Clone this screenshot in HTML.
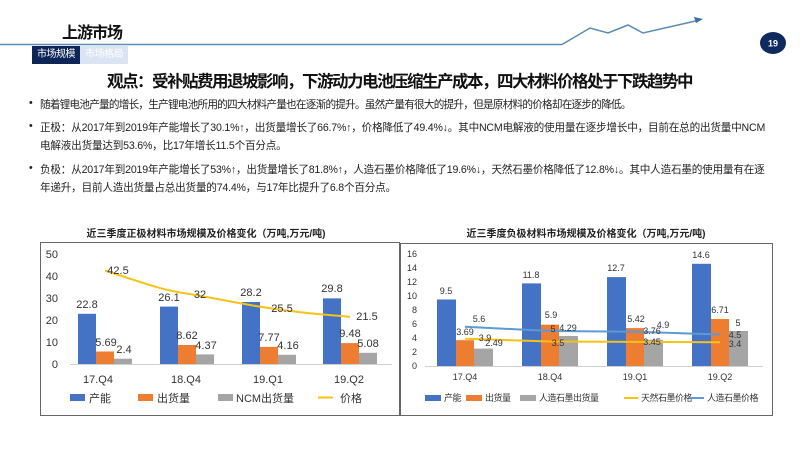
<!DOCTYPE html>
<html><head><meta charset="utf-8">
<style>
body{margin:0;width:800px;height:450px;background:#fff;overflow:hidden;position:relative;font-family:"Liberation Sans","Noto Sans CJK SC",sans-serif;}
.a{position:absolute;white-space:nowrap;}
.t{font-size:10.6px;color:#222;letter-spacing:-0.2px;}
</style></head><body>
<div class="a" style="left:62px;top:19px;font-size:16px;font-weight:bold;color:#111;letter-spacing:-1px;">上游市场</div>
<svg class="a" style="left:0;top:0" width="800" height="70">
<polyline points="0,44.5 562,44.5 590,28 608,33 628,25 643,33 700,20" fill="none" stroke="#5b8bb5" stroke-width="1.5"/>
<polygon points="703,19 694,17 696,23" fill="#3a6ea5"/>
<ellipse cx="773" cy="43" rx="13" ry="11" fill="#0f2a5e"/>
<text x="773" y="46.5" font-size="9" font-weight="bold" fill="#fff" text-anchor="middle" font-family="Liberation Sans">19</text>
</svg>
<div class="a" style="left:32px;top:46px;width:48px;height:18px;background:#0d2557;color:#fff;font-size:10px;line-height:18px;text-align:center;letter-spacing:-0.5px;">市场规模</div>
<div class="a" style="left:80px;top:46px;width:48px;height:18px;background:#dbe4f2;color:#fff;font-size:10px;line-height:18px;text-align:center;letter-spacing:-0.5px;">市场格局</div>
<div class="a" style="left:107px;top:68px;font-size:16.5px;font-weight:bold;color:#111;letter-spacing:-1.5px;">观点：受补贴费用退坡影响，下游动力电池压缩生产成本，四大材料价格处于下跌趋势中</div>
<div class="a t" style="left:29px;top:97px;">•</div>
<div class="a t" style="left:40px;top:97px;letter-spacing:-0.75px;">随着锂电池产量的增长，生产锂电池所用的四大材料产量也在逐渐的提升。虽然产量有很大的提升，但是原材料的价格却在逐步的降低。</div>
<div class="a t" style="left:29px;top:120px;">•</div>
<div class="a t" style="left:40px;top:120px;">正极：从2017年到2019年产能增长了30.1%↑，出货量增长了66.7%↑，价格降低了49.4%↓。其中NCM电解液的使用量在逐步增长中，目前在总的出货量中NCM</div>
<div class="a t" style="left:40px;top:138px;">电解液出货量达到53.6%，比17年增长11.5个百分点。</div>
<div class="a t" style="left:29px;top:162px;">•</div>
<div class="a t" style="left:40px;top:162px;">负极：从2017年到2019年产能增长了53%↑，出货量增长了81.8%↑，人造石墨价格降低了19.6%↓，天然石墨价格降低了12.8%↓。其中人造石墨的使用量有在逐</div>
<div class="a t" style="left:40px;top:180px;">年递升，目前人造出货量占总出货量的74.4%，与17年比提升了6.8个百分点。</div>

<svg class="a" style="left:0;top:0" width="800" height="450" font-family="Liberation Sans, Noto Sans CJK SC, sans-serif">
<text x="206" y="237" font-size="10" font-weight="bold" text-anchor="middle" fill="#222">近三季度正极材料市场规模及价格变化（万吨,万元/吨)</text>
<rect x="40.5" y="242.5" width="359" height="173" fill="none" stroke="#666"/>
<line x1="70" y1="364.5" x2="392" y2="364.5" stroke="#d0d0d0"/>
<g font-size="11" fill="#333" text-anchor="end">
<text x="58" y="368">0</text><text x="58" y="346">10</text><text x="58" y="324">20</text><text x="58" y="302">30</text><text x="58" y="280">40</text><text x="58" y="258">50</text>
</g>
<g>
<rect x="78" y="313.8" width="18" height="50.2" fill="#4472c4"/><rect x="96" y="351.5" width="18" height="12.5" fill="#ed7d31"/><rect x="114" y="358.7" width="18" height="5.3" fill="#a5a5a5"/>
<rect x="160" y="306.6" width="18" height="57.4" fill="#4472c4"/><rect x="178" y="345" width="18" height="19" fill="#ed7d31"/><rect x="196" y="354.4" width="18" height="9.6" fill="#a5a5a5"/>
<rect x="242" y="302" width="18" height="62" fill="#4472c4"/><rect x="260" y="346.9" width="18" height="17.1" fill="#ed7d31"/><rect x="278" y="354.8" width="18" height="9.2" fill="#a5a5a5"/>
<rect x="323" y="298.4" width="18" height="65.6" fill="#4472c4"/><rect x="341" y="343.1" width="18" height="20.9" fill="#ed7d31"/><rect x="359" y="352.8" width="18" height="11.2" fill="#a5a5a5"/>
</g>
<path d="M105,270.5 C135,280 160,290 187,293.6 C215,298 240,304 269,308 C295,312 325,315 350,316.7" fill="none" stroke="#f5c218" stroke-width="2"/>
<g font-size="11" fill="#333" text-anchor="middle">
<text x="87" y="308">22.8</text><text x="106" y="346">5.69</text><text x="124" y="353">2.4</text>
<text x="169" y="301">26.1</text><text x="187" y="339">8.62</text><text x="206" y="349">4.37</text>
<text x="251" y="296">28.2</text><text x="269" y="341">7.77</text><text x="288" y="349">4.16</text>
<text x="332" y="292">29.8</text><text x="350" y="337">9.48</text><text x="368" y="347">5.08</text>
<text x="118" y="274">42.5</text><text x="200" y="298">32</text><text x="282" y="312">25.5</text><text x="367" y="320">21.5</text>
</g>
<g font-size="11" fill="#333" text-anchor="middle">
<text x="98" y="383">17.Q4</text><text x="186" y="383">18.Q4</text><text x="268" y="383">19.Q1</text><text x="349" y="383">19.Q2</text>
</g>
<g font-size="11" fill="#333">
<rect x="70" y="394" width="15" height="7" fill="#4472c4"/><text x="89" y="402">产能</text>
<rect x="138" y="394" width="15" height="7" fill="#ed7d31"/><text x="157" y="402">出货量</text>
<rect x="218" y="394" width="15" height="7" fill="#a5a5a5"/><text x="236" y="402">NCM出货量</text>
<line x1="318" y1="397.5" x2="333" y2="397.5" stroke="#f5c218" stroke-width="2"/><text x="340" y="402">价格</text>
</g>

<text x="586" y="237" font-size="10" font-weight="bold" text-anchor="middle" fill="#222">近三季度负极材料市场规模及价格变化（万吨,万元/吨)</text>
<rect x="400.5" y="243.5" width="372" height="172" fill="none" stroke="#666"/>
<line x1="425" y1="366.5" x2="763" y2="366.5" stroke="#d0d0d0"/>
<g font-size="9" fill="#333" text-anchor="end">
<text x="417" y="369">0</text><text x="417" y="355">2</text><text x="417" y="341">4</text><text x="417" y="327">6</text><text x="417" y="313">8</text><text x="417" y="299">10</text><text x="417" y="285">12</text><text x="417" y="271">14</text><text x="417" y="257">16</text>
</g>
<g>
<rect x="437" y="299.5" width="19" height="66.5" fill="#4472c4"/><rect x="456" y="340.2" width="18" height="25.8" fill="#ed7d31"/><rect x="474" y="348.6" width="19" height="17.4" fill="#a5a5a5"/>
<rect x="522" y="283.4" width="19" height="82.6" fill="#4472c4"/><rect x="541" y="324.7" width="18" height="41.3" fill="#ed7d31"/><rect x="559" y="336" width="19" height="30" fill="#a5a5a5"/>
<rect x="607" y="277.1" width="19" height="88.9" fill="#4472c4"/><rect x="626" y="328.1" width="18" height="37.9" fill="#ed7d31"/><rect x="644" y="339.7" width="19" height="26.3" fill="#a5a5a5"/>
<rect x="692" y="263.8" width="19" height="102.2" fill="#4472c4"/><rect x="711" y="319" width="18" height="47" fill="#ed7d31"/><rect x="729" y="331" width="19" height="35" fill="#a5a5a5"/>
</g>
<polyline points="465,338.7 550,341.5 635,341.9 720,342.2" fill="none" stroke="#f5c218" stroke-width="2"/>
<polyline points="465,326.8 550,331 635,331.7 720,334.5" fill="none" stroke="#5b9bd5" stroke-width="2"/>
<g font-size="9" fill="#333" text-anchor="middle">
<text x="446" y="294">9.5</text><text x="465" y="335">3.69</text><text x="494" y="346">2.49</text>
<text x="531" y="278">11.8</text><text x="551" y="318">5.9</text><text x="568" y="331">4.29</text>
<text x="616" y="271">12.7</text><text x="636" y="322">5.42</text><text x="652" y="334">3.76</text>
<text x="701" y="258">14.6</text><text x="720" y="313">6.71</text><text x="738" y="326">5</text>
<text x="479" y="322">5.6</text><text x="553" y="332">5</text><text x="663" y="328">4.9</text><text x="735" y="338">4.5</text>
<text x="485" y="341">3.9</text><text x="558" y="346">3.5</text><text x="652" y="345">3.45</text><text x="735" y="347">3.4</text>
</g>
<g font-size="9" fill="#333" text-anchor="middle">
<text x="465" y="380">17.Q4</text><text x="550" y="380">18.Q4</text><text x="635" y="380">19.Q1</text><text x="720" y="380">19.Q2</text>
</g>
<g font-size="9" fill="#333" letter-spacing="-0.5">
<rect x="425" y="395" width="16" height="6" fill="#4472c4"/><text x="444" y="401">产能</text>
<rect x="466" y="395" width="16" height="6" fill="#ed7d31"/><text x="485" y="401">出货量</text>
<rect x="520" y="395" width="16" height="6" fill="#a5a5a5"/><text x="539" y="401">人造石墨出货量</text>
<line x1="624" y1="398" x2="638" y2="398" stroke="#f5c218" stroke-width="2"/><text x="641" y="401">天然石墨价格</text>
<line x1="690" y1="398" x2="704" y2="398" stroke="#5b9bd5" stroke-width="2"/><text x="707" y="401">人造石墨价格</text>
</g>
</svg>
</body></html>
